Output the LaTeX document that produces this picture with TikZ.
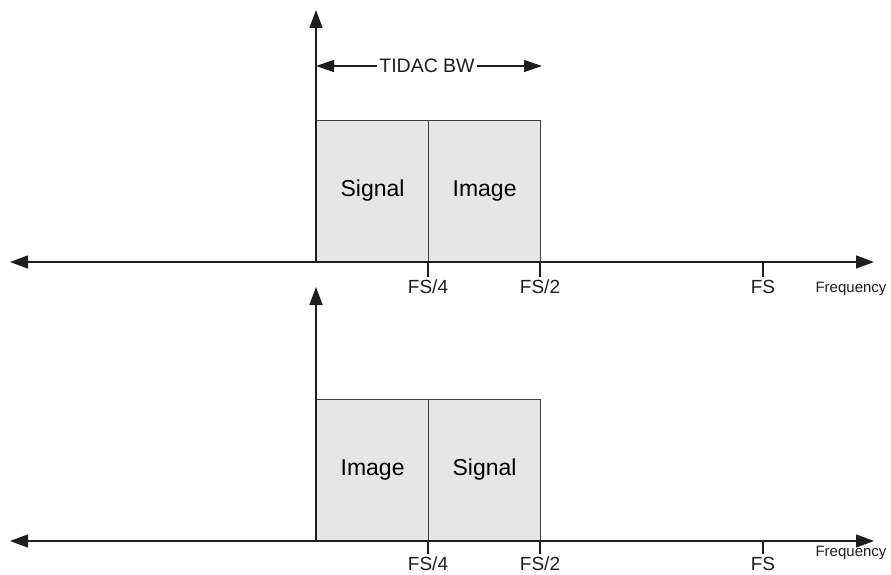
\documentclass[tikz,border=0pt]{standalone}
\usepackage{fontspec}
\setmainfont{Liberation Sans}
\usetikzlibrary{arrows.meta}
\definecolor{axiscol}{HTML}{1E1E1E}
\definecolor{boxfill}{HTML}{E6E6E6}
\tikzset{
  axisline/.style={draw=axiscol, line width=1.4pt},
  bigtip/.style={-{Triangle[length=18pt,width=13pt]}},
  twotip/.style={{Triangle[length=18pt,width=12pt]}-{Triangle[length=18pt,width=12pt]}},
  band/.style={draw=axiscol!85, line width=1.2pt, fill=boxfill, minimum width=112pt, minimum height=141pt, inner sep=0pt, anchor=south west, font=\fontsize{23}{25}\selectfont},
  ticklbl/.style={font=\fontsize{19}{21}\selectfont, inner sep=0pt, text=axiscol},
  freqlbl/.style={font=\fontsize{15}{17}\selectfont, inner sep=0pt, text=axiscol},
}
\begin{document}
\begin{tikzpicture}[x=1pt,y=-1pt]
\useasboundingbox (0,0) rectangle (891,574);
% ---------- top diagram ----------
\coordinate (tL) at (10,262);
\coordinate (tR) at (874,262);
\coordinate (tO) at (316,262);
\coordinate (tTop) at (316,10);
\node[band] (tsig) at (316,262) {Signal};
\node[band] (timg) at (428,262) {Image};
\draw[axisline,bigtip] (tO) -- (tTop);
\draw[axisline,bigtip] (tO) -- (tL);
\draw[axisline,bigtip] (tO) -- (tR);
\coordinate (tk1a) at (428,262); \coordinate (tk1b) at (428,277);
\coordinate (tk2a) at (540,262); \coordinate (tk2b) at (540,277);
\coordinate (tk3a) at (763,262); \coordinate (tk3b) at (763,277);
\draw[axisline] (tk1a) -- (tk1b);
\draw[axisline] (tk2a) -- (tk2b);
\draw[axisline] (tk3a) -- (tk3b);
\node[ticklbl] (tl1) at (428,287) {FS/4};
\node[ticklbl] (tl2) at (540,287) {FS/2};
\node[ticklbl] (tl3) at (763,287) {FS};
\node[freqlbl] (tfreq) at (851,289) {Frequency};
% TIDAC BW
\coordinate (bwL) at (316,66);
\coordinate (bwR) at (542,66);
\node[ticklbl, font=\fontsize{19.5}{21}\selectfont, inner xsep=2pt] (bw) at (427,66) {TIDAC BW};
\draw[axisline, line width=1.3pt, {Triangle[length=18pt,width=12pt]}-] (bwL) -- (bw.west);
\draw[axisline, line width=1.3pt, -{Triangle[length=18pt,width=12pt]}] (bw.east) -- (bwR);
% ---------- bottom diagram ----------
\coordinate (bL) at (10,541);
\coordinate (bR) at (874,541);
\coordinate (bO) at (316,541);
\coordinate (bTop) at (316,287);
\node[band] (bimg) at (316,541) {Image};
\node[band] (bsig) at (428,541) {Signal};
\draw[axisline,bigtip] (bO) -- (bTop);
\draw[axisline,bigtip] (bO) -- (bL);
\draw[axisline,bigtip] (bO) -- (bR);
\coordinate (bk1a) at (428,541); \coordinate (bk1b) at (428,554);
\coordinate (bk2a) at (540,541); \coordinate (bk2b) at (540,554);
\coordinate (bk3a) at (763,541); \coordinate (bk3b) at (763,554);
\draw[axisline] (bk1a) -- (bk1b);
\draw[axisline] (bk2a) -- (bk2b);
\draw[axisline] (bk3a) -- (bk3b);
\node[ticklbl] (bl1) at (428,564) {FS/4};
\node[ticklbl] (bl2) at (540,564) {FS/2};
\node[ticklbl] (bl3) at (763,564) {FS};
\node[freqlbl] (bfreq) at (851,553) {Frequency};
\end{tikzpicture}
\end{document}
